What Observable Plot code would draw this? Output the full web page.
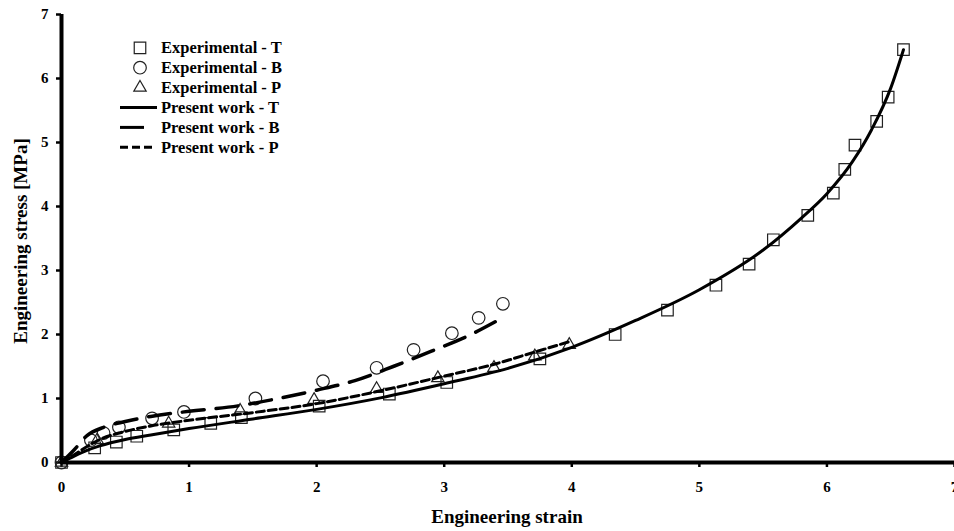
<!DOCTYPE html>
<html>
<head>
<meta charset="utf-8">
<script src="https://cdn.jsdelivr.net/npm/d3@7"></script>
<script src="https://cdn.jsdelivr.net/npm/@observablehq/plot@0.6"></script>
<style>
  html, body { margin: 0; padding: 0; background: white; }
  #wrap { position: relative; width: 954px; height: 531px; overflow: hidden; }
  #wrap svg { position: absolute; left: 0; top: 0; }
</style>
</head>
<body>
<div id="wrap"></div>
<script>
// ---- Data ----
const xTicks = [0, 1, 2, 3, 4, 5, 6, 7];
const yTicks = [0, 1, 2, 3, 4, 5, 6, 7];
const xLabel = "Engineering strain";
const yLabel = "Engineering stress [MPa]";

// Experimental points [strain, stress]
const expT = [[0,0],[0.26,0.23],[0.43,0.32],[0.59,0.41],[0.88,0.51],[1.17,0.61],[1.41,0.70],[2.02,0.88],[2.57,1.07],[3.02,1.25],[3.75,1.62],[4.34,2.0],[4.75,2.38],[5.13,2.77],[5.39,3.10],[5.58,3.48],[5.85,3.86],[6.05,4.21],[6.14,4.58],[6.22,4.96],[6.39,5.33],[6.48,5.71],[6.60,6.45]];
const expB = [[0,0],[0.23,0.35],[0.33,0.46],[0.45,0.55],[0.71,0.69],[0.96,0.79],[1.52,1.0],[2.05,1.27],[2.47,1.48],[2.76,1.76],[3.06,2.02],[3.27,2.26],[3.46,2.48]];
const expP = [[0,0],[0.28,0.35],[0.84,0.61],[1.40,0.81],[1.98,0.98],[2.47,1.15],[2.95,1.32],[3.39,1.48],[3.71,1.66],[3.98,1.84]];

// Model curves (present work) [strain, stress]
const modelT = [[0,0],[0.1,0.1],[0.2,0.19],[0.3,0.26],[0.5,0.36],[0.7,0.43],[1,0.53],[1.5,0.68],[2,0.83],[2.5,1.01],[3,1.23],[3.5,1.47],[4,1.8],[4.5,2.22],[5,2.7],[5.5,3.32],[5.8,3.82],[6,4.2],[6.2,4.7],[6.35,5.2],[6.5,5.85],[6.6,6.45]];
const modelB = [[0,0],[0.1,0.2],[0.2,0.42],[0.33,0.55],[0.5,0.64],[0.7,0.72],[1,0.8],[1.4,0.89],[1.7,1.0],[2,1.13],[2.3,1.28],[2.6,1.5],[2.9,1.74],[3.2,1.99],[3.42,2.22]];
const modelP = [[0,0],[0.1,0.12],[0.2,0.25],[0.3,0.36],[0.45,0.46],[0.7,0.57],[1,0.66],[1.5,0.78],[2,0.92],[2.5,1.12],[3,1.35],[3.4,1.54],[3.7,1.72],[4,1.9]];

const legendItems = [
  {label: "Experimental - T", kind: "square"},
  {label: "Experimental - B", kind: "circle"},
  {label: "Experimental - P", kind: "triangle"},
  {label: "Present work - T", kind: "solid"},
  {label: "Present work - B", kind: "long"},
  {label: "Present work - P", kind: "short"}
];

// ---- Chart ----
const W = 954, H = 531;
const font = "'Liberation Serif', 'Times New Roman', serif";
const mk = "#222";
const dashLong = "22,12";
const dashShort = "8,4";

const chart = Plot.plot({
  width: W, height: H,
  marginLeft: 61, marginRight: 0, marginTop: 14, marginBottom: 69,
  x: {domain: [0, 7]},
  y: {domain: [0, 7]},
  style: {fontFamily: font, fontSize: "15px", fontWeight: "bold", color: "black", background: "transparent"},
  marks: [
    Plot.axisX(xTicks, {tickSize: 5, tickPadding: 14, strokeWidth: 2.5, label: null, tickFormat: d => d}),
    Plot.axisY(yTicks, {tickSize: 5, tickPadding: 8, strokeWidth: 2.5, label: null, tickFormat: d => d}),
    Plot.dot(expT, {x: d => d[0], y: d => d[1], symbol: "square", r: 6.5, stroke: mk, strokeWidth: 1.2, fill: "none"}),
    Plot.dot(expB, {x: d => d[0], y: d => d[1], symbol: "circle", r: 6.3, stroke: mk, strokeWidth: 1.2, fill: "none"}),
    Plot.dot(expP, {x: d => d[0], y: d => d[1], symbol: "triangle", r: 4.6, stroke: mk, strokeWidth: 1.2, fill: "none"}),
    Plot.line(modelT, {x: d => d[0], y: d => d[1], stroke: "black", strokeWidth: 3, curve: "monotone-x"}),
    Plot.line(modelB, {x: d => d[0], y: d => d[1], stroke: "black", strokeWidth: 3.5, strokeDasharray: dashLong, curve: "monotone-x"}),
    Plot.line(modelP, {x: d => d[0], y: d => d[1], stroke: "black", strokeWidth: 3, strokeDasharray: dashShort, curve: "monotone-x"}),
    Plot.ruleX([0], {strokeWidth: 4, stroke: "black"}),
    Plot.ruleY([0], {strokeWidth: 4, stroke: "black"})
  ]
});
document.getElementById("wrap").appendChild(chart);

// ---- Overlay: axis titles and legend ----
const ov = d3.select("#wrap").append("svg")
  .attr("width", W).attr("height", H)
  .style("pointer-events", "none")
  .attr("font-family", font).attr("font-weight", "bold");

ov.append("text").attr("x", 507).attr("y", 523).attr("text-anchor", "middle")
  .attr("font-size", 19).text(xLabel);
ov.append("text").attr("transform", "translate(27,241) rotate(-90)").attr("text-anchor", "middle")
  .attr("font-size", 19).text(yLabel);

const lg = ov.append("g");
legendItems.forEach((it, i) => {
  const cy = 47.8 + i * 19.9;
  const g = lg.append("g");
  if (it.kind === "square" || it.kind === "circle" || it.kind === "triangle") {
    const type = it.kind === "square" ? d3.symbolSquare : it.kind === "circle" ? d3.symbolCircle : d3.symbolTriangle;
    const r = it.kind === "square" ? 6.5 : it.kind === "circle" ? 6.3 : 4.6;
    g.append("path").attr("d", d3.symbol(type, Math.PI * r * r)())
      .attr("transform", `translate(140,${cy})`)
      .attr("fill", "none").attr("stroke", mk).attr("stroke-width", 1.2);
  } else {
    const x2 = it.kind === "solid" ? 157 : it.kind === "long" ? 144 : 153;
    g.append("line").attr("x1", 120).attr("x2", x2).attr("y1", cy).attr("y2", cy)
      .attr("stroke", "black").attr("stroke-width", 3)
      .attr("stroke-dasharray", it.kind === "short" ? dashShort : null);
  }
  g.append("text").attr("x", 161).attr("y", cy + 5.5).attr("font-size", 16.5).text(it.label);
});
</script>
</body>
</html>
